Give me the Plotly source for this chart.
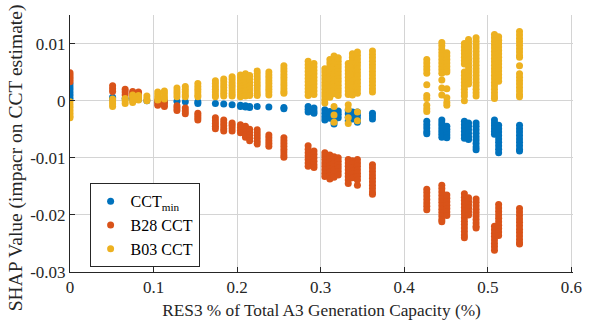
import plotly.graph_objects as go

# Column x positions (RES3 share)
x_cols = [0.000, 0.051, 0.066, 0.075, 0.082, 0.092, 0.105, 0.113, 0.128, 0.138,
          0.153, 0.174, 0.184, 0.194, 0.204, 0.210, 0.215, 0.224, 0.238, 0.256,
          0.285, 0.292, 0.305, 0.311, 0.316, 0.321, 0.333, 0.338, 0.344, 0.362,
          0.427, 0.445, 0.451, 0.472, 0.477, 0.486, 0.508, 0.513, 0.538]

# SHAP values in thousandths (x 1e-3), one list per column
cctmin_y = [
    [0.4, 0.9, 1.4, 1.9, 2.4, 2.9],
    [0.3, 0.6], [0.4], [0.3], [0.2], [0.0],
    [-0.1], [-0.1], [-0.1], [-0.2], [-0.2, -0.5],
    [-0.5], [-0.6], [-0.7], [-0.8, -1.0], [-0.9, -1.1], [-1.0, -1.2], [-1.0], [-1.1], [-1.2, -1.4],
    [-1.0, -1.5, -2.0], [-1.3, -1.8, -2.2], [-1.6, -2.2, -2.8, -3.4], [-1.9, -2.5, -3.1],
    [-1.7, -2.3, -2.9, -3.5, -4.1], [-1.8, -2.4, -3.0], [-1.7, -2.3, -2.9, -3.5],
    [-2.0, -2.6, -3.2], [-2.0, -2.6, -3.2, -3.8], [-2.2, -2.7, -3.2],
    [-3.6, -4.2, -4.8, -5.4, -5.8],
    [-3.4, -3.9, -4.4, -4.9, -5.4, -5.9, -6.4],
    [-4.5, -5.0, -5.5, -6.0, -6.5],
    [-3.6, -4.2, -4.8, -5.4, -6.0, -6.6],
    [-3.9, -4.5, -5.1, -5.7, -6.3, -6.8],
    [-3.9, -4.5, -5.1, -5.7, -6.3, -6.9, -7.5, -8.1, -8.6],
    [-3.4, -3.9, -4.4, -4.9, -5.4, -5.9],
    [-4.3, -4.9, -5.5, -6.1, -6.7, -7.3, -7.9, -8.5, -9.1],
    [-4.3, -4.9, -5.5, -6.1, -6.7, -7.3, -7.9, -8.5, -8.8],
]

b28_y = [
    [3.3, 3.7, 4.1, 4.5, 4.9],
    [1.6, 2.1, 2.6], [1.0, 1.5, 2.0], [0.9, 1.3, 1.6], [0.8, 1.2, 1.5], [],
    [0.0, -0.4, -0.8], [-0.2, -0.6, -1.0], [-0.9, -1.3, -1.7], [-1.3, -1.8, -2.3],
    [-2.2, -2.6, -3.0, -3.4],
    [-3.0, -3.5, -4.0, -4.5, -4.9], [-3.4, -3.9, -4.4, -4.9, -5.3], [-3.9, -4.3, -4.8, -5.3],
    [-4.2, -4.7, -5.2, -5.6], [-4.5, -5.0, -5.5, -6.0, -6.4], [-5.0, -5.5, -6.0, -6.5, -7.0],
    [-5.1, -5.6, -6.1, -6.6, -7.1, -7.6], [-6.0, -6.5, -7.0, -7.5, -8.0],
    [-6.5, -7.0, -7.5, -8.0, -8.5, -9.0, -9.5, -9.9],
    [-7.9, -8.5, -9.1, -9.7, -10.3, -10.9, -11.5],
    [-8.8, -9.4, -10.0, -10.6, -11.2, -11.7],
    [-9.1, -9.7, -10.3, -10.9, -11.5, -12.1, -12.7, -13.3],
    [-9.5, -10.1, -10.7, -11.3, -11.9, -12.5, -13.1, -13.7],
    [-9.8, -10.4, -11.0, -11.6, -12.2, -12.8, -13.4],
    [-10.0, -10.6, -11.2, -11.8, -12.4, -13.0],
    [-10.3, -10.9, -11.5, -12.1, -12.7, -13.3, -13.9, -14.5],
    [-10.5, -11.1, -11.7, -12.3, -12.9, -13.5],
    [-10.3, -10.9, -11.5, -12.1, -12.7, -13.3, -13.9, -14.8],
    [-11.2, -11.8, -12.4, -13.0, -13.6, -14.2, -14.8, -15.4, -16.0, -16.4],
    [-15.5, -16.1, -16.7, -17.3, -17.9, -18.5, -19.1],
    [-14.8, -15.4, -16.0, -16.6, -17.2, -17.8, -18.4, -19.0, -19.6, -20.2, -20.8, -21.2],
    [-16.5, -17.1, -17.7, -18.3, -18.9, -19.5, -20.1],
    [-16.3, -16.9, -17.5, -18.1, -18.7, -19.3, -19.9, -20.5, -21.1, -21.7, -22.3, -22.9, -23.5, -24.0],
    [-17.0, -17.6, -18.2, -18.8, -19.4, -20.0],
    [-17.2, -17.8, -18.4, -19.0, -19.6, -20.2, -20.8, -21.4, -22.0, -22.3],
    [-22.0, -22.6, -23.2, -23.8, -24.4, -25.0, -25.6, -26.2],
    [-18.2, -18.8, -19.4, -20.0, -20.6, -21.2, -21.8, -22.4, -23.0, -23.6],
    [-18.9, -19.5, -20.1, -20.7, -21.3, -21.9, -22.5, -23.1, -23.7, -24.3, -24.9, -25.1],
]

b03_y = [
    [-0.2, -0.7, -1.2, -1.7, -2.2, -2.7, -3.0],
    [0.3, -0.2, -0.6, -1.0], [0.4, 0.0, -0.5], [1.0, 0.5, 0.0, -0.3], [0.9, 0.5, 0.1], [0.8, 0.3, 0.0],
    [1.5, 1.0, 0.5, 0.1], [1.7, 1.2, 0.7, 0.3], [2.2, 1.7, 1.2, 0.7], [2.5, 2.0, 1.5, 1.0, 0.7],
    [3.0, 2.5, 2.0, 1.5, 1.0, 0.7],
    [3.5, 3.0, 2.5, 2.0, 1.5, 1.0, 0.7],
    [3.8, 3.3, 2.8, 2.3, 1.8, 1.3, 0.8],
    [4.2, 3.7, 3.2, 2.7, 2.2, 1.7, 1.2, 0.8],
    [4.5, 4.0, 3.5, 3.0, 2.5, 2.0, 1.5, 1.0, 0.7],
    [4.7, 4.2, 3.7, 3.2, 2.7, 2.2, 1.7, 1.2, 0.8],
    [4.4, 3.8, 3.2, 2.6, 2.0, 1.4, 0.9],
    [5.2, 4.7, 4.2, 3.7, 3.2, 2.7, 2.2, 1.7, 1.2, 0.9],
    [5.0, 4.5, 4.0, 3.5, 3.0, 2.5, 2.0, 1.5, 1.0],
    [6.1, 5.6, 5.1, 4.6, 4.1, 3.6, 3.1, 2.6, 2.1, 1.6, 1.3],
    [6.9, 6.3, 5.7, 5.1, 4.5, 3.9, 3.3, 2.7, 2.1, 1.5, 0.9],
    [6.5, 5.9, 5.3, 4.7, 4.1, 3.5, 2.9, 2.3, 1.7, 1.1],
    [5.6, 5.0, 4.4, 3.8, 3.2, 2.6, 2.0, 1.4, 0.8, 0.2, -0.4],
    [7.2, 6.6, 6.0, 5.4, 4.8, 4.2, 3.6, 3.0, 2.4, 1.8, 1.2, 0.6],
    [7.8, 7.2, 6.6, 6.0, 5.4, 4.8, 4.2, 3.6, 3.0, 2.4, 1.8, 1.2, -1.0, -2.5, -3.8],
    [7.5, 6.9, 6.3, 5.7, 5.1, 4.5, 3.9, 3.3, 2.7, 2.1, 1.5, 0.9],
    [6.5, 5.9, 5.3, 4.7, 4.1, 3.5, 2.9, 2.3, 1.7, 1.1, -0.7, -1.5, -3.0, -4.0],
    [8.2, 7.6, 7.0, 6.4, 5.8, 5.2, 4.6, 4.0, 3.4, 2.8, 2.2, 1.6, 1.0],
    [8.5, 7.9, 7.3, 6.7, 6.1, 5.5, 4.9, 4.3, 3.7, 3.1, 2.5, 1.9, 1.3, -2.0, -3.5],
    [8.7, 8.1, 7.5, 6.9, 6.3, 5.7, 5.1, 4.5, 3.9, 3.3, 2.7, 2.1, 1.5],
    [7.2, 6.6, 6.0, 5.4, 4.8, 2.8, 0.9, 0.4, -0.8, -1.4, -1.9],
    [10.2, 9.6, 9.0, 8.4, 7.8, 7.2, 6.6, 6.0, 5.4, 4.8, 3.6, 2.2, 1.0],
    [8.4, 7.8, 7.2, 6.6, 6.0, 5.4, 5.0, 2.1, 0.5, -0.3, -0.8],
    [10.0, 9.4, 8.8, 8.2, 7.6, 7.0, 6.4, 5.0, 4.4, 3.8, 3.2, 2.6, 2.0, 1.4, 0.8, 0.0],
    [10.7, 10.1, 9.5, 8.9, 8.3, 7.7, 7.1, 6.5, 5.9, 5.3, 4.7, 4.1, 3.5, 2.9],
    [11.0, 10.4, 9.8, 9.2, 8.6, 8.0, 7.4, 6.8, 6.2, 5.6, 5.0, 4.4, 3.8, 3.2, 2.6, 2.0, 1.4, 0.8],
    [11.6, 11.0, 10.4, 9.8, 9.2, 8.6, 8.0, 7.4, 6.8, 6.2, 5.6, 5.0, 4.4, 3.8, 3.2, 2.6, 2.0, 1.4, 0.8, 0.4],
    [11.2, 10.6, 10.0, 9.4, 8.8, 8.2, 7.6, 7.0, 6.4, 5.8, 5.2, 4.6, 4.0, 3.4],
    [12.1, 11.5, 10.9, 10.3, 9.7, 9.1, 8.5, 7.9, 7.6, 6.1, 4.7, 4.1, 3.5, 2.9, 2.3, 1.7, 1.1, 0.7],
]

UNIT = 1e-3

series_names = ["CCT<sub>min</sub>", "B28 CCT", "B03 CCT"]
series_data = [cctmin_y, b28_y, b03_y]
series_colors = ["#0072BD", "#D95319", "#EDB120"]

x_ticks = [0, 0.1, 0.2, 0.3, 0.4, 0.5, 0.6]
x_ticklabels = ["0", "0.1", "0.2", "0.3", "0.4", "0.5", "0.6"]
y_ticks = [-0.03, -0.02, -0.01, 0, 0.01]
y_ticklabels = ["-0.03", "-0.02", "-0.01", "0", "0.01"]

x_title = "RES3 % of Total A3 Generation Capacity (%)"
y_title = "SHAP Value (impacr on CCT estimate)"


def flatten(cols):
    xs, ys = [], []
    for xc, yl in zip(x_cols, cols):
        for v in yl:
            xs.append(xc)
            ys.append(v * UNIT)
    return xs, ys


fig = go.Figure()
for name, data, color in zip(series_names, series_data, series_colors):
    xs, ys = flatten(data)
    fig.add_trace(go.Scatter(x=xs, y=ys, mode="markers", name=name,
                             marker=dict(color=color, size=7, line=dict(width=0))))

FONT = "Liberation Serif, Times New Roman, serif"
TXT = "#262626"
fig.update_layout(
    width=590, height=325,
    margin=dict(l=70, r=8, t=15, b=49),
    paper_bgcolor="white", plot_bgcolor="white",
    font=dict(family=FONT, size=17, color=TXT),
    legend=dict(x=0.039, y=0.345, xanchor="left", yanchor="top",
                bordercolor=TXT, borderwidth=1, bgcolor="white",
                font=dict(family=FONT, size=16, color="#000000"),
                itemwidth=30, tracegroupgap=0),
    annotations=[dict(text=y_title, textangle=-90, xref="paper", yref="paper",
                      x=-0.108, y=0.445, xanchor="center", yanchor="middle",
                      showarrow=False, font=dict(family=FONT, size=19.5, color=TXT))],
)
fig.update_xaxes(range=[0, 0.602], tickvals=x_ticks, ticktext=x_ticklabels,
                 showgrid=True, gridcolor="#d4d4d4", gridwidth=1, zeroline=False,
                 showline=True, linecolor=TXT, linewidth=1,
                 ticks="inside", ticklen=5, tickcolor=TXT,
                 ticklabeloverflow="allow",
                 tickfont=dict(family=FONT, size=17, color=TXT),
                 title=dict(text=x_title, standoff=7, font=dict(family=FONT, size=17.3, color=TXT)))
fig.update_yaxes(range=[-0.03, 0.015], tickvals=y_ticks, ticktext=y_ticklabels,
                 showgrid=True, gridcolor="#d4d4d4", gridwidth=1, zeroline=False,
                 showline=True, linecolor=TXT, linewidth=1,
                 ticks="inside", ticklen=5, tickcolor=TXT,
                 tickfont=dict(family=FONT, size=17, color=TXT))

fig.write_html("out.html")
